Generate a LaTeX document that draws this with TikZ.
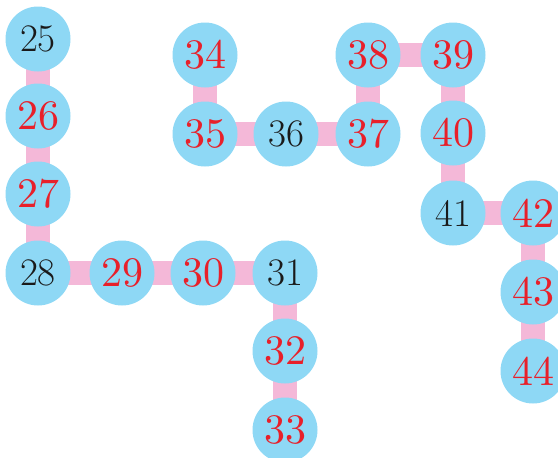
\documentclass[tikz,border=0pt]{standalone}
\usepackage{fontspec}
\usepackage{xcolor}
\usepackage{tikz}
\usetikzlibrary{backgrounds}
\newfontfamily\tenfont{lmroman10-regular.otf}
\definecolor{ballblue}{HTML}{8ED8F5}
\definecolor{linkpink}{HTML}{F4B8D8}
\definecolor{numred}{HTML}{E8202A}
\definecolor{numblack}{HTML}{1A1A1A}
\tikzset{
  ball/.style={circle,fill=ballblue,inner sep=0pt,minimum size=65pt},
  rednum/.style={ball,text=numred,font=\tenfont\fontsize{42}{42}\selectfont},
  blacknum/.style={ball,text=numblack,font=\fontsize{39}{39}\selectfont},
  link/.style={linkpink,line width=24pt}
}

\begin{document}
\begin{tikzpicture}[x=1pt,y=-1pt]
  \useasboundingbox (0,0) rectangle (558,458);
  \foreach \lab/\px/\py/\sty in {25/38/39/blacknum, 26/38/116/rednum, 27/38/194/rednum, 28/38/273/blacknum,
      29/122/273/rednum, 30/203/273/rednum, 31/285/273/blacknum, 32/285/351/rednum, 33/285/430/rednum,
      34/205/55/rednum, 35/205/134/rednum, 36/286/134/blacknum, 37/368/134/rednum, 38/368/55/rednum,
      39/453/55/rednum, 40/453/133/rednum, 41/453/213/blacknum, 42/533/213/rednum, 43/533/292/rednum,
      44/533/371/rednum}{
    \node[\sty] (n\lab) at (\px,\py) {\lab};
  }
  \begin{scope}[on background layer]
    \foreach \a/\b in {25/26,26/27,27/28,28/29,29/30,30/31,31/32,32/33,
        34/35,35/36,36/37,37/38,38/39,39/40,40/41,41/42,42/43,43/44}{
      \draw[link] (n\a.center) -- (n\b.center);
    }
  \end{scope}
\end{tikzpicture}
\end{document}
